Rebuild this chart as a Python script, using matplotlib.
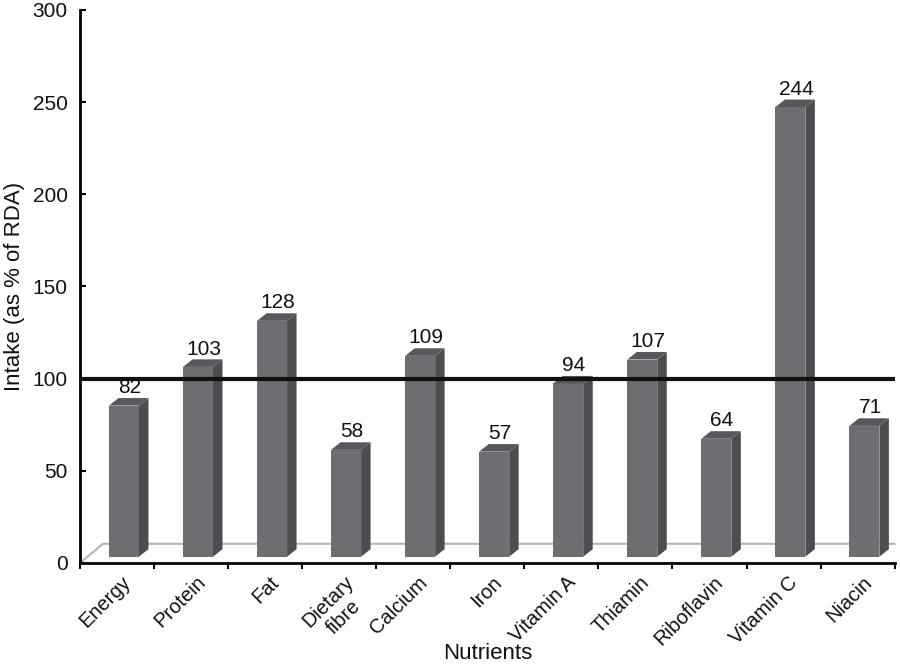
import matplotlib.pyplot as plt
from matplotlib.patches import Polygon

plt.rcParams['font.family'] = ['Liberation Sans', 'DejaVu Sans']

nutrients = ['Energy', 'Protein', 'Fat', 'Dietary\nfibre', 'Calcium', 'Iron',
             'Vitamin A', 'Thiamin', 'Riboflavin', 'Vitamin C', 'Niacin']
intake = [82, 103, 128, 58, 109, 57, 94, 107, 64, 244, 71]
rda_line = 100

front_col = '#6e6e72'
side_col = '#4d4d51'
top_col = '#58585c'

fig = plt.figure(figsize=(9, 6.66), dpi=100)
ax = fig.add_axes([0.089, 0.155, 0.905, 0.83])

n = len(intake)
ax.set_xlim(0, n)
ax.set_ylim(0, 300)

# floor of the pseudo-3D chart
fdx, fdy = 0.31, 10.3
ax.plot([0, fdx, n], [0, fdy, fdy], color='#b4b4b4', lw=1.5, zorder=1, clip_on=False)

# bars with side and top faces
w = 0.405
dx, dy = 0.128, 4.1
base = 3.3
xs = [i + 0.39 for i in range(n)]
ax.bar(xs, intake, width=w, bottom=base, align='edge', color=front_col,
       edgecolor='none', zorder=2)
for x0, v in zip(xs, intake):
    top = base + v
    side = Polygon([(x0 + w, base), (x0 + w + dx, base + dy),
                    (x0 + w + dx, top + dy), (x0 + w, top)],
                   closed=True, facecolor=side_col, edgecolor='none', zorder=2)
    lid = Polygon([(x0, top), (x0 + w, top), (x0 + w + dx, top + dy),
                   (x0 + dx, top + dy)],
                  closed=True, facecolor=top_col, edgecolor='none', zorder=2)
    ax.add_patch(side)
    ax.add_patch(lid)
    ax.text(x0 + 0.28, v + 13, str(v), ha='center', va='center',
            fontsize=15, color='#111111', zorder=4)

ax.axhline(rda_line, color='#111111', lw=3, zorder=3)

ax.spines['top'].set_visible(False)
ax.spines['right'].set_visible(False)
ax.spines['left'].set_linewidth(2)
ax.spines['bottom'].set_linewidth(2)

ax.set_yticks(range(0, 301, 50))
ax.tick_params(axis='y', direction='in', length=4, width=1.5, labelsize=15,
               pad=9, labelcolor='#111111')
ax.set_xticks(range(0, n + 1))
ax.set_xticklabels([])
ax.tick_params(axis='x', which='major', direction='out', length=4, width=1.5)
ax.set_xticks([i + 0.56 for i in range(n)], minor=True)
ax.set_xticklabels(nutrients, minor=True, rotation=45, ha='right',
                   rotation_mode='anchor', fontsize=14.5, multialignment='center',
                   color='#111111')
ax.tick_params(axis='x', which='minor', length=0, pad=7)

ax.set_ylabel('Intake (as % of RDA)', fontsize=16, color='#111111', va='center')
ax.yaxis.set_label_coords(-0.08, 0.5)
ax.set_xlabel('Nutrients', fontsize=16, color='#111111', va='center')
ax.xaxis.set_label_coords(0.5, -0.165)

fig.savefig('out.png', dpi=100)
